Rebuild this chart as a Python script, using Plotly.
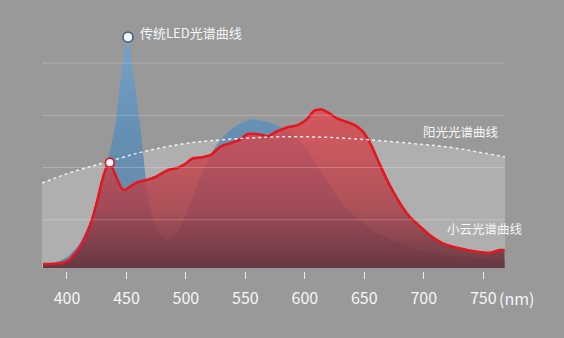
import plotly.graph_objects as go
import numpy as np

# ---- data (wavelength nm, relative intensity) ----
red_x = [380, 395, 402, 411, 419, 425, 429, 433, 436, 440, 446, 449, 453, 459, 467, 475, 485, 492,
         498, 506, 514, 521, 529, 537, 545, 552, 561, 569, 576, 585, 594, 601, 608, 614, 620, 627,
         635, 642, 649, 656, 663, 672, 680, 688, 697, 705, 716, 730, 745, 756, 764, 768]
red_y = [3.8, 4.2, 5.7, 12, 21.7, 33, 42.6, 49.8, 52.3, 47.4, 40, 39.2, 40.8, 42.9, 44, 45.6, 48.8, 49.6,
         51.2, 54.4, 54.9, 56, 60, 61.6, 63.2, 66, 65.9, 65, 67.1, 69.2, 70.3, 72.7, 77.2, 77.8, 76.2, 73.5,
         71.9, 70.3, 67.1, 60.5, 51.5, 40.8, 32.9, 26.5, 21.7, 17.7, 13.7, 11.3, 9.7, 9.2, 10.5, 10.5]

blue_x = [380, 390, 400, 410, 420, 428, 435, 441, 447, 451.3, 454.5, 461, 464, 467, 472.6, 479.6, 485,
          492, 500.6, 509, 517.5, 523, 529, 540, 554, 568, 579, 590, 600, 615, 635, 650, 663, 680,
          700, 720, 740, 768]
blue_y = [4, 4.5, 7, 13, 25, 41, 55, 72, 100, 112.4, 100, 72.7, 57, 41, 25, 17, 15.3,
          18.5, 28, 41, 52, 58.4, 63.2, 69, 73, 72, 69.5, 66, 60, 47, 30, 23, 18, 13.5,
          10, 8, 7, 6]

sun_x = [379, 400, 420, 436, 460, 480, 500, 520, 550, 580, 610, 640, 670, 700, 720, 740, 768.3]
sun_y = [42.6, 47, 50.5, 53, 57, 59.5, 61.5, 62.8, 64, 64.7, 64.6, 63.8, 62.5, 61, 59.8, 58, 55]

tick_vals = [400, 450, 500, 550, 600, 650, 700, 750]
tick_text = ["400", "450", "500", "550", "600", "650", "700", "750"]
grid_vals = [25, 50, 75, 100]

label_led = "传统LED光谱曲线"
label_sun = "阳光光谱曲线"
label_xy = "小云光谱曲线"
unit_label = "(nm)"

BG = "rgb(153,153,153)"
FONT = "Noto Sans CJK SC"
TXT = "rgb(246,246,246)"

fig = go.Figure()

# sunlight fill
fig.add_trace(go.Scatter(x=sun_x, y=sun_y, mode="lines", line=dict(width=0, shape="spline"),
                         fill="tozeroy", fillcolor="rgba(255,255,255,0.22)", hoverinfo="skip",
                         showlegend=False))
# traditional LED (blue)
fig.add_trace(go.Scatter(x=blue_x, y=blue_y, mode="lines",
                         line=dict(width=0, shape="spline", smoothing=0.7),
                         fill="tozeroy",
                         fillgradient=dict(type="vertical",
                                           colorscale=[[0, "rgba(80,115,150,0.8)"],
                                                       [0.6, "rgba(90,142,185,0.82)"],
                                                       [1, "rgba(115,165,205,0.85)"]]),
                         hoverinfo="skip", showlegend=False))
# xiaoyun (red)
fig.add_trace(go.Scatter(x=red_x, y=red_y, mode="lines",
                         line=dict(width=2.6, color="rgb(228,22,32)", shape="spline", smoothing=0.6),
                         fill="tozeroy",
                         fillgradient=dict(type="vertical",
                                           colorscale=[[0, "rgba(95,52,60,0.95)"],
                                                       [0.4, "rgba(172,64,74,0.84)"],
                                                       [1, "rgba(228,72,78,0.8)"]]),
                         hoverinfo="skip", showlegend=False))
# sunlight dotted line on top
fig.add_trace(go.Scatter(x=sun_x, y=sun_y, mode="lines",
                         line=dict(width=1.5, color="rgba(255,255,255,0.85)", dash="dot", shape="spline"),
                         hoverinfo="skip", showlegend=False))

# peak markers
bi = int(np.argmax(blue_y))
fig.add_trace(go.Scatter(x=[blue_x[bi]], y=[blue_y[bi]], mode="markers",
                         marker=dict(size=10, color="rgb(245,248,252)",
                                     line=dict(width=1.8, color="rgb(70,105,140)")),
                         hoverinfo="skip", showlegend=False))
sub = [i for i, xv in enumerate(red_x) if xv < 450]
ri = max(sub, key=lambda i: red_y[i])
fig.add_trace(go.Scatter(x=[red_x[ri]], y=[red_y[ri]], mode="markers",
                         marker=dict(size=9, color="rgb(250,240,240)",
                                     line=dict(width=1.8, color="rgb(200,30,40)")),
                         hoverinfo="skip", showlegend=False))

shapes = [dict(type="line", xref="paper", x0=0, x1=1, yref="y", y0=g, y1=g, layer="above",
               line=dict(color="rgba(255,255,255,0.22)", width=1)) for g in grid_vals]

annotations = [
    dict(text=label_led, x=459.7, y=114.4, xref="x", yref="y", xanchor="left", yanchor="middle",
         showarrow=False, font=dict(family=FONT, size=13, color=TXT)),
    dict(text=label_sun, x=764.9, y=67.1, xref="x", yref="y", xanchor="right", yanchor="middle",
         showarrow=False, font=dict(family=FONT, size=12.5, color=TXT)),
    dict(text=label_xy, x=717.8, y=21, xref="x", yref="y", xanchor="left", yanchor="middle",
         showarrow=False, font=dict(family=FONT, size=12.5, color=TXT)),
    dict(text=unit_label, x=761.8, y=-0.1076, xref="x", yref="paper", xanchor="left", yanchor="middle",
         showarrow=False, font=dict(family=FONT, size=16, color=TXT)),
]

fig.update_layout(
    width=564, height=338,
    margin=dict(l=42, r=59, t=20, b=67, pad=0),
    paper_bgcolor=BG, plot_bgcolor=BG,
    shapes=shapes, annotations=annotations,
    xaxis=dict(range=[379, 768.3], tickvals=tick_vals, ticktext=tick_text, showgrid=False,
               zeroline=False, showline=False, ticks="outside", ticklen=7, tickwidth=1.2,
               tickcolor="rgba(245,245,245,0.9)", anchor="free", position=0,
               ticklabelstandoff=6,
               tickfont=dict(family=FONT, size=16, color=TXT)),
    yaxis=dict(range=[1.9, 120.6], domain=[3 / 251, 1], showgrid=False, zeroline=False,
               showticklabels=False, showline=False),
)

fig.write_html("out.html")
